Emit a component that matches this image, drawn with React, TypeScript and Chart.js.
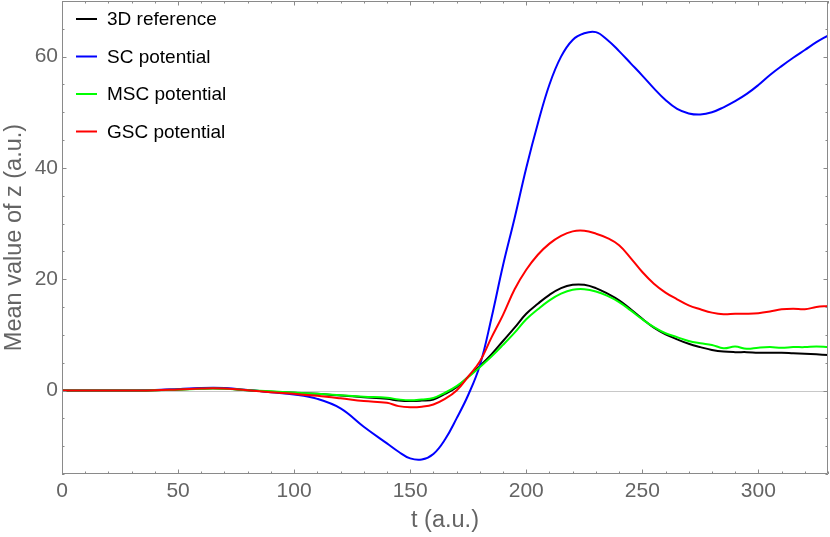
import { useEffect, useRef } from "react";
import { Chart, registerables } from "chart.js";

Chart.register(...registerables);

// ---- data ----
const tValues = [
  0, 10, 20, 30, 40, 50, 60, 65, 70, 80, 90, 100, 110, 120, 130, 140, 145, 150, 155, 160, 165, 170,
  175, 180, 185, 190, 195, 200, 205, 210, 215, 220, 225, 230, 235, 240, 245, 250, 255, 260, 265,
  270, 275, 280, 285, 290, 295, 300, 305, 310, 315, 320, 325, 330,
];

const ref3D = [
  0, 0, 0, 0, 0.05, 0.2, 0.35, 0.4, 0.35, 0.05, -0.2, -0.4, -0.6, -0.9, -1.2, -1.5, -1.8, -1.9, -1.8,
  -1.6, -0.6, 0.6, 2.5, 4.4, 6.5, 8.9, 11.3, 13.8, 15.6, 17.2, 18.4, 19.0, 19.0, 18.4, 17.4, 16.2,
  14.6, 12.9, 11.3, 10.1, 9.2, 8.4, 7.8, 7.3, 7.0, 6.9, 6.9, 6.8, 6.8, 6.8, 6.7, 6.6, 6.5, 6.4,
];

const scPotential = [
  0, 0, 0, 0, 0.1, 0.25, 0.45, 0.5, 0.45, 0.1, -0.3, -0.7, -1.5, -3.2, -6.5, -9.5, -11, -12.2, -12.4,
  -11.4, -8.8, -5, -0.8, 4.5, 13, 22.5, 31, 40, 48, 55, 60, 63, 64.2, 64.4, 63, 61, 58.8, 56.6, 54.3,
  52.2, 50.6, 49.8, 49.6, 50, 50.9, 52, 53.3, 54.9, 56.7, 58.3, 59.8, 61.2, 62.6, 63.8,
];

const mscPotential = [
  0, 0, 0, 0, 0.05, 0.15, 0.3, 0.35, 0.3, 0.05, -0.15, -0.35, -0.6, -0.85, -1.1, -1.3, -1.6, -1.75,
  -1.6, -1.35, -0.4, 0.8, 2.4, 4.2, 6.1, 8.2, 10.4, 12.8, 14.6, 16.2, 17.4, 18.1, 18.2, 17.8, 17.0,
  15.9, 14.4, 12.8, 11.4, 10.3, 9.6, 8.9, 8.5, 8.2, 7.6, 7.9, 7.5, 7.7, 7.8, 7.7, 7.8, 7.8, 7.9, 7.8,
];

const gscPotential = [
  0, 0, 0, 0, 0.05, 0.2, 0.35, 0.4, 0.35, 0.05, -0.3, -0.6, -0.95, -1.4, -1.9, -2.2, -2.8, -3.0, -2.9,
  -2.5, -1.5, 0, 2.5, 5.2, 9.5, 13.6, 18.2, 21.7, 24.4, 26.4, 27.8, 28.6, 28.7, 28.2, 27.4, 26.1,
  23.8, 21.3, 19.2, 17.6, 16.4, 15.3, 14.6, 14.0, 13.7, 13.8, 13.8, 13.9, 14.2, 14.6, 14.7, 14.6,
  15.0, 15.2,
];

const seriesLabels = ["3D reference", "SC potential", "MSC potential", "GSC potential"];
const seriesColors = ["#000000", "#0000ff", "#00ff00", "#ff0000"];
const seriesOrder = [3, 2, 1, 0];

const xMajorTicks = [0, 50, 100, 150, 200, 250, 300];
const yMajorTicks = [0, 20, 40, 60];
const xMinorStep = 10;
const yMinorStep = 5;

const X_MIN = 0;
const X_MAX = 330;
const Y_MIN = -15;
const Y_MAX = 70;

const FONT = "'Liberation Sans', Arial, Helvetica, sans-serif";
const FRAME_COLOR = "#8a8a8a";
const LABEL_COLOR = "#646464";

const framePlugin = {
  id: "mmaFrame",
  beforeDatasetsDraw(chart: any) {
    const { ctx, chartArea } = chart;
    const y0 = chart.scales.y.getPixelForValue(0);
    ctx.save();
    ctx.strokeStyle = "#c8c8c8";
    ctx.lineWidth = 1;
    ctx.beginPath();
    ctx.moveTo(chartArea.left, Math.round(y0) + 0.5);
    ctx.lineTo(chartArea.right, Math.round(y0) + 0.5);
    ctx.stroke();
    ctx.restore();
  },
  afterDatasetsDraw(chart: any) {
    const { ctx, chartArea } = chart;
    const { left, right, top, bottom } = chartArea;
    const xs = chart.scales.x;
    const ys = chart.scales.y;
    ctx.save();
    ctx.strokeStyle = FRAME_COLOR;
    ctx.lineWidth = 1;
    ctx.beginPath();
    ctx.rect(left + 0.5, top + 0.5, right - left - 1, bottom - top - 1);
    ctx.stroke();

    const major = 4.5;
    const minor = 2.5;
    ctx.beginPath();
    for (let v = X_MIN; v <= X_MAX + 1e-9; v += xMinorStep) {
      const isMajor = xMajorTicks.includes(v);
      const len = isMajor ? major : minor;
      const px = Math.round(xs.getPixelForValue(v)) + 0.5;
      ctx.moveTo(px, bottom);
      ctx.lineTo(px, bottom - len);
      ctx.moveTo(px, top);
      ctx.lineTo(px, top + len);
    }
    for (let v = Y_MIN; v <= Y_MAX + 1e-9; v += yMinorStep) {
      const isMajor = yMajorTicks.includes(v);
      const len = isMajor ? major : minor;
      const py = Math.round(ys.getPixelForValue(v)) + 0.5;
      ctx.moveTo(left, py);
      ctx.lineTo(left + len, py);
      ctx.moveTo(right, py);
      ctx.lineTo(right - len, py);
    }
    ctx.stroke();

    // legend inside the plot, top-left
    const lx = left + 14;
    const rowTop = top + 18;
    const rowGap = 37.5;
    ctx.font = `19px ${FONT}`;
    ctx.textBaseline = "middle";
    ctx.textAlign = "left";
    seriesLabels.forEach((label, i) => {
      const y = rowTop + i * rowGap;
      ctx.strokeStyle = seriesColors[i];
      ctx.lineWidth = 2;
      ctx.beginPath();
      ctx.moveTo(lx, y);
      ctx.lineTo(lx + 21, y);
      ctx.stroke();
      ctx.fillStyle = "#000000";
      ctx.fillText(label, lx + 31, y + 1);
    });
    ctx.restore();
  },
};

export default function App() {
  const canvasRef = useRef<HTMLCanvasElement | null>(null);

  useEffect(() => {
    if (!canvasRef.current) return;
    const seriesValues = [ref3D, scPotential, mscPotential, gscPotential];
    const chart = new Chart(canvasRef.current, {
      type: "line",
      data: {
        datasets: seriesValues.map((vals, i) => ({
          label: seriesLabels[i],
          data: tValues.map((t, j) => ({ x: t, y: vals[j] })),
          borderColor: seriesColors[i],
          backgroundColor: seriesColors[i],
          borderWidth: 2,
          pointRadius: 0,
          tension: 0.4,
          fill: false,
          order: seriesOrder[i],
        })),
      },
      options: {
        animation: false,
        responsive: true,
        maintainAspectRatio: false,
        devicePixelRatio: 1,
        layout: { padding: { top: 1, right: 2, left: 0, bottom: 0 } },
        plugins: {
          legend: { display: false },
          tooltip: { enabled: false },
        },
        scales: {
          x: {
            type: "linear",
            min: X_MIN,
            max: X_MAX,
            grid: { display: false, drawTicks: false },
            border: { display: false },
            afterBuildTicks: (scale: any) => {
              scale.ticks = xMajorTicks.map((v) => ({ value: v }));
            },
            afterFit: (scale: any) => {
              scale.height = 63;
              scale.paddingLeft = 0;
              scale.paddingRight = 0;
              scale.paddingTop = 0;
              scale.paddingBottom = 0;
            },
            ticks: {
              padding: 5,
              maxRotation: 0,
              autoSkip: false,
              color: LABEL_COLOR,
              font: { family: FONT, size: 21 },
            },
            title: {
              display: true,
              text: "t (a.u.)",
              color: LABEL_COLOR,
              font: { family: FONT, size: 23.5 },
              padding: { top: 0, bottom: 2 },
            },
          },
          y: {
            type: "linear",
            min: Y_MIN,
            max: Y_MAX,
            grid: { display: false, drawTicks: false },
            border: { display: false },
            afterBuildTicks: (scale: any) => {
              scale.ticks = yMajorTicks.map((v) => ({ value: v }));
            },
            afterFit: (scale: any) => {
              scale.width = 62;
              scale.paddingLeft = 0;
              scale.paddingRight = 0;
              scale.paddingTop = 0;
              scale.paddingBottom = 0;
            },
            ticks: {
              padding: 4,
              autoSkip: false,
              color: LABEL_COLOR,
              font: { family: FONT, size: 21 },
            },
            title: {
              display: true,
              text: "Mean value of z (a.u.)",
              color: LABEL_COLOR,
              font: { family: FONT, size: 23.5 },
              padding: { top: 0, bottom: 0 },
            },
          },
        },
      },
      plugins: [framePlugin],
    });
    return () => chart.destroy();
  }, []);

  return (
    <div
      style={{
        position: "absolute",
        left: 0,
        top: 0,
        width: 830,
        height: 537,
        background: "#ffffff",
      }}
    >
      <canvas ref={canvasRef} />
    </div>
  );
}
